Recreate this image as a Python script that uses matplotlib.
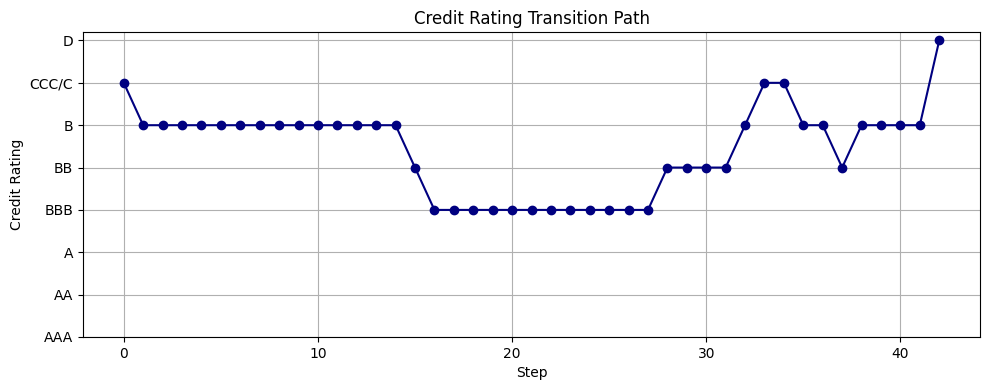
import matplotlib
matplotlib.use("Agg")
import matplotlib.pyplot as plt

ratings = ["AAA", "AA", "A", "BBB", "BB", "B", "CCC/C", "D"]
steps = list(range(43))
path = ["CCC/C"] + ["B"] * 14 + ["BB"] + ["BBB"] * 12 + ["BB"] * 4 + ["B"] + ["CCC/C"] * 2 + ["B"] * 2 + ["BB"] + ["B"] * 4 + ["D"]

idx = [ratings.index(r) for r in path]

fig, ax = plt.subplots(figsize=(9.89, 3.9), dpi=100)
ax.plot(steps, idx, marker="o", color="navy")
ax.set_yticks(range(len(ratings)))
ax.set_yticklabels(ratings)
ax.set_ylim(0, 7.2)
ax.set_title("Credit Rating Transition Path")
ax.set_xlabel("Step")
ax.set_ylabel("Credit Rating")
ax.grid(True)
fig.subplots_adjust(left=83/989, right=980/989, top=1-32/390, bottom=1-337/390)
fig.savefig("out.png")
